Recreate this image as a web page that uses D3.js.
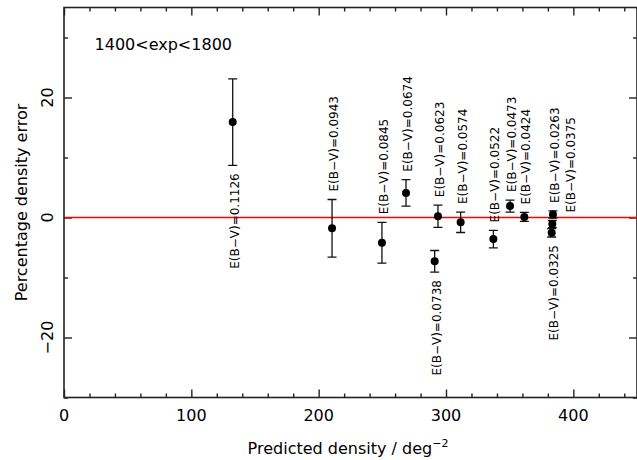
<!DOCTYPE html>
<html>
<head>
<meta charset="utf-8">
<script src="https://cdn.jsdelivr.net/npm/d3@7"></script>
<style>
	body { margin: 0; background: #fff; }
	svg { display: block; font-family: 'DejaVu Sans', sans-serif; }
	.vis__frame { fill: none; stroke: #222; stroke-width: 1.6; }
	.vis__ticks line { stroke: #222; stroke-width: 1.4; }
	.vis__ticks path { display: none; }
	.vis__err { stroke: #111; stroke-width: 1.3; fill: none; }
	.vis__dot { fill: #000; }
	.vis__label { font-size: 12px; fill: #000; }
	.vis__tick-label, .vis__title { font-size: 16px; fill: #000; }
</style>
</head>
<body>
<svg id="chart" width="637" height="460"></svg>
<script>
// E(B-V) of each field, predicted density, percentage error and its error bar
var ebv = [0.1126, 0.0943, 0.0845, 0.0674, 0.0738, 0.0623, 0.0574, 0.0522, 0.0473, 0.0424, 0.0325, 0.0263, 0.0375];
var density = [132.5, 210.5, 249.7, 268.6, 291.1, 293.7, 311.5, 337.2, 350.3, 361.5, 383, 384, 383.5];
var errorPct = [15.9, -1.8, -4.2, 4.1, -7.3, 0.2, -0.8, -3.6, 1.9, 0.1, -2.55, 0.5, -1.1];
var errorBar = [7.2, 4.8, 3.4, 2.2, 1.8, 1.85, 1.7, 1.45, 1.0, 0.75, 0.7, 0.6, 0.6];
var labelSide = ['below', 'above', 'above', 'above', 'below', 'above', 'above', 'above', 'above', 'above', 'below', 'above', 'above'];

var xMajor = [0, 100, 200, 300, 400];
var yMajor = [-20, 0, 20];
var xDomain = [0, 450];
var yDomain = [-30, 35];
var panelText = '1400<exp<1800';

var svg = d3.select('#chart');

var x = d3.scaleLinear().domain(xDomain).range([64, 637]);
var y = d3.scaleLinear().domain(yDomain).range([397.5, 7.5]);

var xMinor = d3.range(0, 451, 20).filter(function(d) { return d % 100 != 0; });
var yMinor = d3.range(-30, 36, 10).filter(function(d) { return d % 20 != 0; });

// ticks on all four sides, pointing inwards
function addTicks(axis, scale, values, size, transform) {
	svg.append('g')
		.classed('vis__ticks', true)
		.attr('transform', transform)
		.call(axis(scale).tickValues(values).tickSize(-size).tickFormat(''));
}

addTicks(d3.axisBottom, x, xMajor, 8, 'translate(0,397.5)');
addTicks(d3.axisBottom, x, xMinor, 4, 'translate(0,397.5)');
addTicks(d3.axisTop, x, xMajor, 8, 'translate(0,7.5)');
addTicks(d3.axisTop, x, xMinor, 4, 'translate(0,7.5)');
addTicks(d3.axisLeft, y, yMajor, 8, 'translate(64,0)');
addTicks(d3.axisLeft, y, yMinor, 4, 'translate(64,0)');
addTicks(d3.axisRight, y, yMajor, 8, 'translate(637,0)');
addTicks(d3.axisRight, y, yMinor, 4, 'translate(637,0)');

svg.append('rect')
	.classed('vis__frame', true)
	.attr('x', x.range()[0])
	.attr('y', y.range()[1])
	.attr('width', x.range()[1] - x.range()[0])
	.attr('height', y.range()[0] - y.range()[1]);

// tick labels
svg.selectAll('.vis__tick-label--x').data(xMajor).enter().append('text')
	.attr('class', 'vis__tick-label vis__tick-label--x')
	.attr('x', function(d) { return x(d); })
	.attr('y', 421)
	.attr('text-anchor', 'middle')
	.text(function(d) { return d; });

svg.selectAll('.vis__tick-label--y').data(yMajor).enter().append('text')
	.attr('class', 'vis__tick-label vis__tick-label--y')
	.attr('text-anchor', 'middle')
	.attr('transform', function(d) { return 'translate(52.5,' + y(d) + ') rotate(-90)'; })
	.text(function(d) { return d < 0 ? '\u2212' + Math.abs(d) : d; });

// axis titles
var xTitle = svg.append('text')
	.classed('vis__title', true)
	.attr('x', 348)
	.attr('y', 454)
	.attr('text-anchor', 'middle');
xTitle.append('tspan').text('Predicted density / deg');
xTitle.append('tspan').attr('dy', -7).style('font-size', '11px').text('\u22122');

svg.append('text')
	.classed('vis__title', true)
	.attr('text-anchor', 'middle')
	.attr('transform', 'translate(27,' + ((y.range()[0] + y.range()[1]) / 2) + ') rotate(-90)')
	.text('Percentage density error');

svg.append('text')
	.classed('vis__title', true)
	.attr('x', x(24))
	.attr('y', y(28))
	.text(panelText);

// zero line
svg.append('line')
	.classed('vis__zero', true)
	.attr('x1', x.range()[0] + 1)
	.attr('x2', x.range()[1])
	.attr('y1', y(0))
	.attr('y2', y(0))
	.attr('stroke', '#ff0000')
	.attr('stroke-width', 1.6);

var points = ebv.map(function(e, i) {
	return { ebv: e, x: density[i], y: errorPct[i], err: errorBar[i], side: labelSide[i] };
});

// error bars
var cap = 4.5;
var bars = svg.append('g').selectAll('g').data(points).enter().append('g');
bars.append('path')
	.classed('vis__err', true)
	.attr('d', function(d) {
		var px = x(d.x), top = y(d.y + d.err), bot = y(d.y - d.err);
		return 'M' + px + ',' + top + 'V' + bot +
			'M' + (px - cap) + ',' + top + 'H' + (px + cap) +
			'M' + (px - cap) + ',' + bot + 'H' + (px + cap);
	});
bars.append('circle')
	.classed('vis__dot', true)
	.attr('cx', function(d) { return x(d.x); })
	.attr('cy', function(d) { return y(d.y); })
	.attr('r', 4);

// labels, rotated, above or below the error bar; nudge sideways when two collide
var gap = 8, labelWidth = 16;
var placed = [];
points.forEach(function(d) {
	var lx = x(d.x) + 6;
	var ly = d.side == 'above' ? y(d.y + d.err) - gap : y(d.y - d.err) + gap;
	placed.forEach(function(p) {
		if (p.side == d.side && Math.abs(p.lx - lx) < labelWidth - 4) lx = p.lx + labelWidth;
	});
	placed.push({ side: d.side, lx: lx });
	svg.append('text')
		.classed('vis__label', true)
		.attr('text-anchor', d.side == 'above' ? 'start' : 'end')
		.attr('transform', 'translate(' + lx + ',' + ly + ') rotate(-90)')
		.text('E(B\u2212V)=' + d3.format('.4f')(d.ebv));
});
</script>
</body>
</html>
